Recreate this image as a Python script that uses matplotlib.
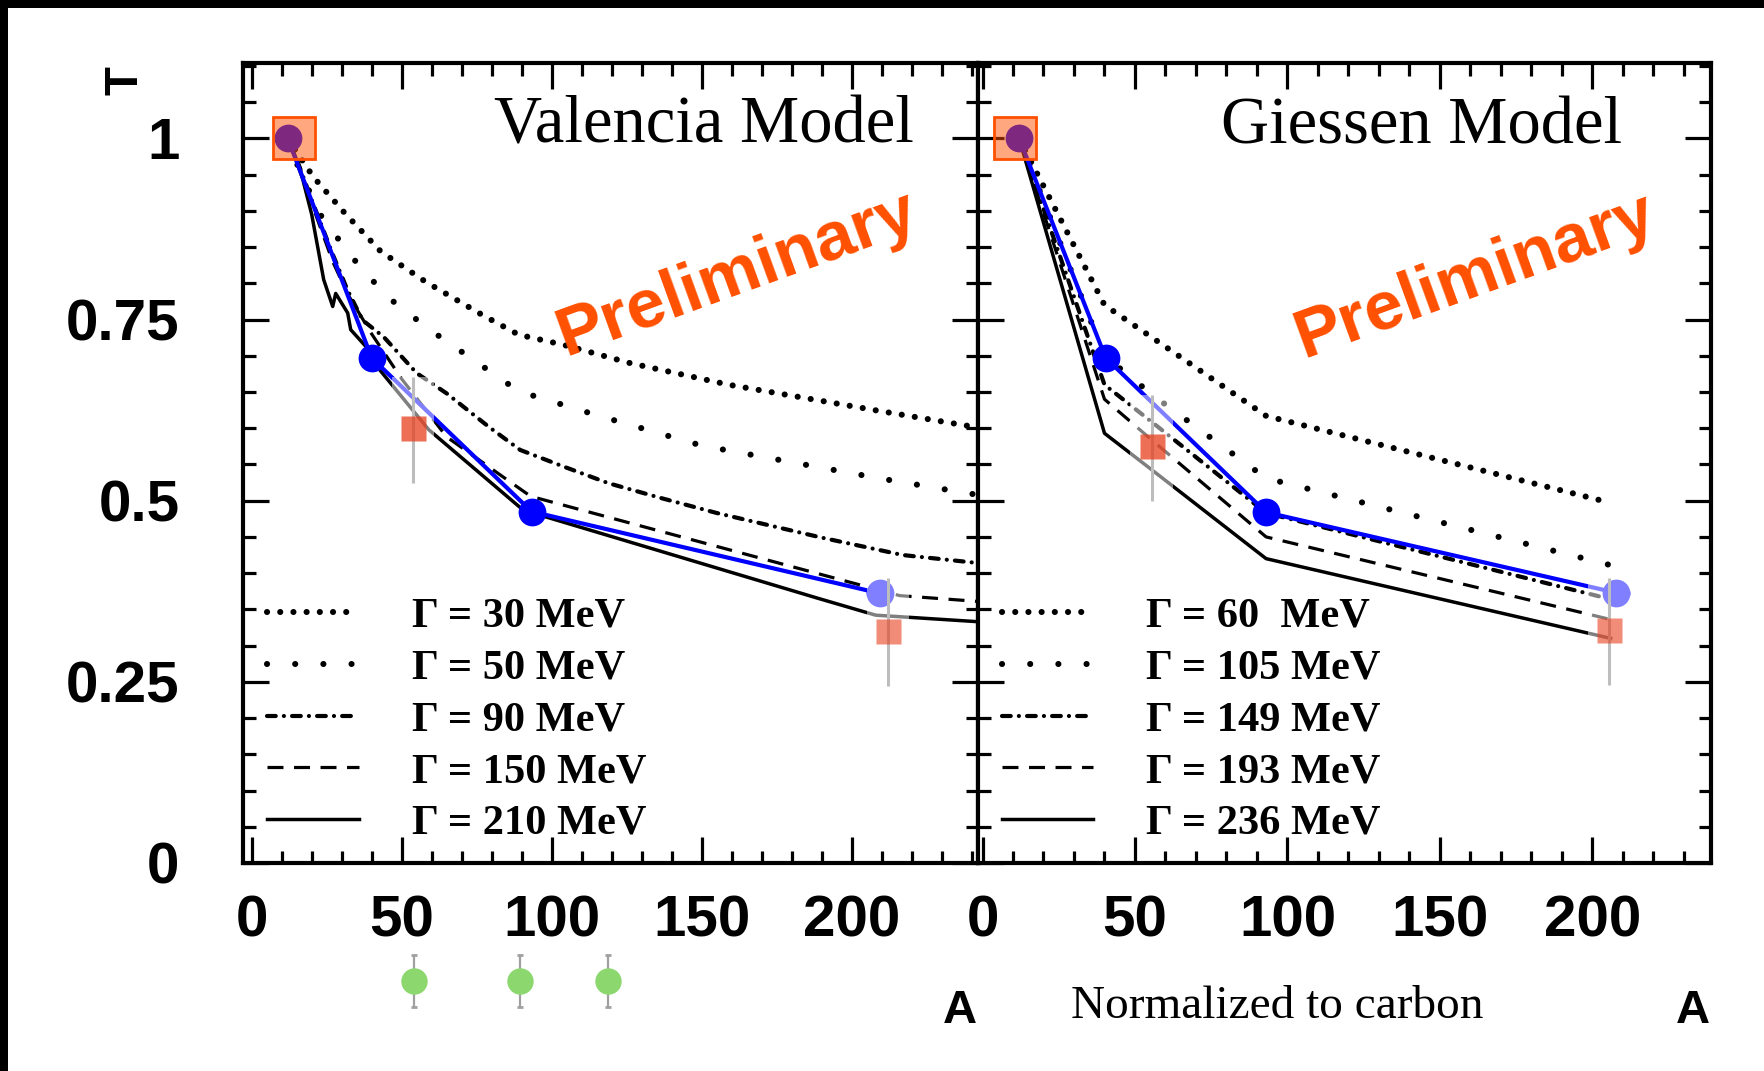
import matplotlib
matplotlib.use("Agg")
import matplotlib.pyplot as plt
from matplotlib.patches import Rectangle
from matplotlib.lines import Line2D
from matplotlib.ticker import MultipleLocator
from matplotlib.font_manager import FontProperties

plt.rcParams['font.family'] = ['Liberation Sans', 'DejaVu Sans']
plt.rcParams['font.weight'] = 'bold'

# ---------------- Valencia model: transparency T versus mass number A ----------------
val_labels = ["Γ = 30 MeV", "Γ = 50 MeV", "Γ = 90 MeV", "Γ = 150 MeV", "Γ = 210 MeV"]
val_A_30 = [12, 16, 20.5, 31, 43, 58, 77, 89, 104, 126, 159, 209, 242]
val_T_30 = [1.0, 0.975, 0.947, 0.897, 0.844, 0.802, 0.756, 0.729, 0.715, 0.690, 0.660, 0.624, 0.601]
val_A_50 = [12, 16, 23, 33, 45, 59, 74, 89, 115, 150, 209, 242]
val_T_50 = [1.0, 0.955, 0.894, 0.838, 0.782, 0.737, 0.694, 0.651, 0.618, 0.576, 0.531, 0.508]
val_A_90 = [12, 16, 20, 27, 32, 37, 44, 55, 65, 79, 89.5, 104, 119, 137, 155, 190, 217, 242]
val_T_90 = [1.0, 0.96, 0.915, 0.84, 0.79, 0.749, 0.726, 0.676, 0.648, 0.602, 0.570, 0.547,
            0.524, 0.503, 0.483, 0.449, 0.425, 0.414]
val_A_150 = [12, 16, 20, 27, 32, 40, 50, 65, 82, 93, 216, 242]
val_T_150 = [1.0, 0.955, 0.91, 0.83, 0.785, 0.73, 0.668, 0.588, 0.538, 0.506, 0.369, 0.361]
val_A_210 = [12, 16, 20, 24, 27, 28, 32, 33, 38, 40, 59, 90.5, 189, 208, 242]
val_T_210 = [1.0, 0.96, 0.895, 0.805, 0.768, 0.786, 0.759, 0.736, 0.713, 0.694, 0.598, 0.487,
             0.365, 0.342, 0.333]

val_blue_A = [12, 40, 93.3, 209.5]
val_blue_T = [1.0, 0.697, 0.485, 0.372]
val_carbon_A = 14
val_data_A = [53.7, 212]
val_data_T = [0.600, 0.320]
val_data_lo = [0.524, 0.244]
val_data_hi = [0.671, 0.393]

# ---------------- Giessen model ----------------
gie_labels = ["Γ = 60  MeV", "Γ = 105 MeV", "Γ = 149 MeV", "Γ = 193 MeV", "Γ = 236 MeV"]
gie_A = [12, 40, 56, 93, 206]
gie_T_60 = [1.0, 0.770, 0.724, 0.617, 0.497]
gie_T_105 = [1.0, 0.700, 0.645, 0.531, 0.411]
gie_T_149 = [1.0, 0.660, 0.607, 0.483, 0.364]
gie_T_193 = [1.0, 0.640, 0.582, 0.450, 0.336]
gie_T_236 = [1.0, 0.593, 0.541, 0.420, 0.310]

gie_blue_A = [12, 40.4, 93, 207.7]
gie_blue_T = [1.0, 0.697, 0.484, 0.373]
gie_carbon_A = 10.7
gie_data_A = [55.5, 205.5]
gie_data_T = [0.576, 0.322]
gie_data_lo = [0.499, 0.246]
gie_data_hi = [0.646, 0.393]

# extra points below the left panel
green_A = [54, 89.4, 118.6]
green_T = [-0.163, -0.163, -0.163]
green_err = [0.036, 0.036, 0.036]

y_ticks = [0, 0.25, 0.5, 0.75, 1]
y_tick_labels = ["0", "0.25", "0.5", "0.75", "1"]

# line styles for the five widths (narrowest to widest)
styles = [
    dict(ls=(0, (0.01, 2.15)), lw=4.4, dash_capstyle='round'),
    dict(ls=(0, (0.01, 4.6)), lw=4.4, dash_capstyle='round'),
    dict(ls=(0, (2.1, 1.95, 0.01, 1.95)), lw=3.0, dash_capstyle='round'),
    dict(ls=(0, (5, 3.3)), lw=2.3),
    dict(ls='-', lw=2.5),
]

ORANGE = '#FF5000'
serif = 'Liberation Serif'

fig = plt.figure(figsize=(17.64, 10.71), dpi=100)
fig.patch.set_facecolor('white')
W, H = 1764.0, 1071.0
ax_v = fig.add_axes([243.3 / W, 208 / H, 734.7 / W, 800 / H])
ax_g = fig.add_axes([978 / W, 208 / H, 733 / W, 800 / H])

# dark frame along the top and left edges of the picture
fig.patches.append(Rectangle((0, 1 - 8 / H), 1, 8 / H, transform=fig.transFigure,
                             facecolor='black', edgecolor='none', zorder=10))
fig.patches.append(Rectangle((0, 0), 8 / W, 1, transform=fig.transFigure,
                             facecolor='black', edgecolor='none', zorder=10))


def draw_panel(ax, curves, labels, blue_A, blue_T, carbon_A, d_A, d_T, d_lo, d_hi,
               title, title_x, xlim):
    handles = []
    for (A, T), st in zip(curves, styles):
        ax.plot(A, T, color='black', zorder=2, **st)
        handles.append(Line2D([], [], color='black', **st))

    ax.plot(blue_A, blue_T, '-', color='blue', lw=3, zorder=3)
    ax.plot(blue_A, blue_T, 'o', ms=20, color='blue', mec='none', zorder=3.1)

    # measured points with their error bars
    for A, lo, hi in zip(d_A, d_lo, d_hi):
        ax.add_patch(Rectangle((A - 7, lo), 14, hi - lo, facecolor='white', alpha=0.5,
                               edgecolor='none', zorder=4))
    yerr = [[t - lo for t, lo in zip(d_T, d_lo)], [hi - t for t, hi in zip(d_T, d_hi)]]
    ax.errorbar(d_A, d_T, yerr=yerr, fmt='none', ecolor='#BDBDBD', elinewidth=2.2, zorder=4.5)
    for A, T, a in zip(d_A, d_T, [0.75, 0.6]):
        ax.plot(A, T, 's', ms=18, color='#E63F1E', alpha=a, mec='none', zorder=5)

    # carbon reference point
    ax.plot(carbon_A, 1.0, 's', ms=30, mfc=(1.0, 0.314, 0.0, 0.5), mec=ORANGE, mew=2,
            zorder=6)

    ax.set_xlim(*xlim)
    ax.set_ylim(0, 1.104)
    ax.xaxis.set_major_locator(MultipleLocator(50))
    ax.xaxis.set_minor_locator(MultipleLocator(10))
    ax.set_yticks(y_ticks, y_tick_labels)
    ax.yaxis.set_minor_locator(MultipleLocator(0.05))
    ax.tick_params(which='both', direction='in', top=True, right=True, width=2.3)
    ax.tick_params(which='major', length=19)
    ax.tick_params(which='minor', length=9)
    ax.tick_params(axis='x', labelsize=42, pad=23)
    ax.tick_params(axis='y', labelsize=42, pad=46)
    for sp in ax.spines.values():
        sp.set_linewidth(3.0)

    ax.text(title_x, 0.9, title, transform=ax.transAxes, ha='right', va='baseline',
            fontsize=48, fontweight='normal', family=serif)
    ax.legend(handles, labels, loc='lower left', bbox_to_anchor=(0.0325, 0.025),
              frameon=False, borderpad=0, borderaxespad=0, handlelength=2.16,
              handletextpad=1.25, labelspacing=0.31,
              prop=FontProperties(family=serif, weight='bold', size=30.5))
    ax.set_xlabel('A', fontsize=34, fontweight='bold')
    ax.xaxis.set_label_coords(0.9755, -0.158)


draw_panel(ax_v,
           [(val_A_30, val_T_30), (val_A_50, val_T_50), (val_A_90, val_T_90),
            (val_A_150, val_T_150), (val_A_210, val_T_210)],
           val_labels, val_blue_A, val_blue_T, val_carbon_A,
           val_data_A, val_data_T, val_data_lo, val_data_hi,
           'Valencia Model', 0.913, (-2.8, 242.1))
draw_panel(ax_g,
           [(gie_A, gie_T_60), (gie_A, gie_T_105), (gie_A, gie_T_149),
            (gie_A, gie_T_193), (gie_A, gie_T_236)],
           gie_labels, gie_blue_A, gie_blue_T, gie_carbon_A,
           gie_data_A, gie_data_T, gie_data_lo, gie_data_hi,
           'Giessen Model', 0.879, (-1.48, 238.9))
ax_g.tick_params(axis='y', labelleft=False)

ax_v.set_ylabel('T', fontsize=34, fontweight='bold', va='center', ha='center')
ax_v.yaxis.set_label_coords(-0.161, 0.9775)

for ax, x, y in ((ax_v, 0.672, 0.736), (ax_g, 0.678, 0.734)):
    ax.text(x, y, 'Preliminary', transform=ax.transAxes, rotation=20, ha='center',
            va='center', color=ORANGE, fontsize=50, fontweight='bold', zorder=7)

ax_g.text(0.408, -0.18, 'Normalized to carbon', transform=ax_g.transAxes, ha='center',
          va='center', fontsize=34, fontweight='normal', family=serif)

eb = ax_v.errorbar(green_A, green_T, yerr=green_err, fmt='o', ms=19, color='#8CD76E',
                   mec='none', ecolor='#A0A0A0', elinewidth=1.6, capsize=2.5, capthick=2)
for art in eb.get_children():
    art.set_clip_on(False)

fig.savefig('out.png', dpi=100, facecolor='white')
